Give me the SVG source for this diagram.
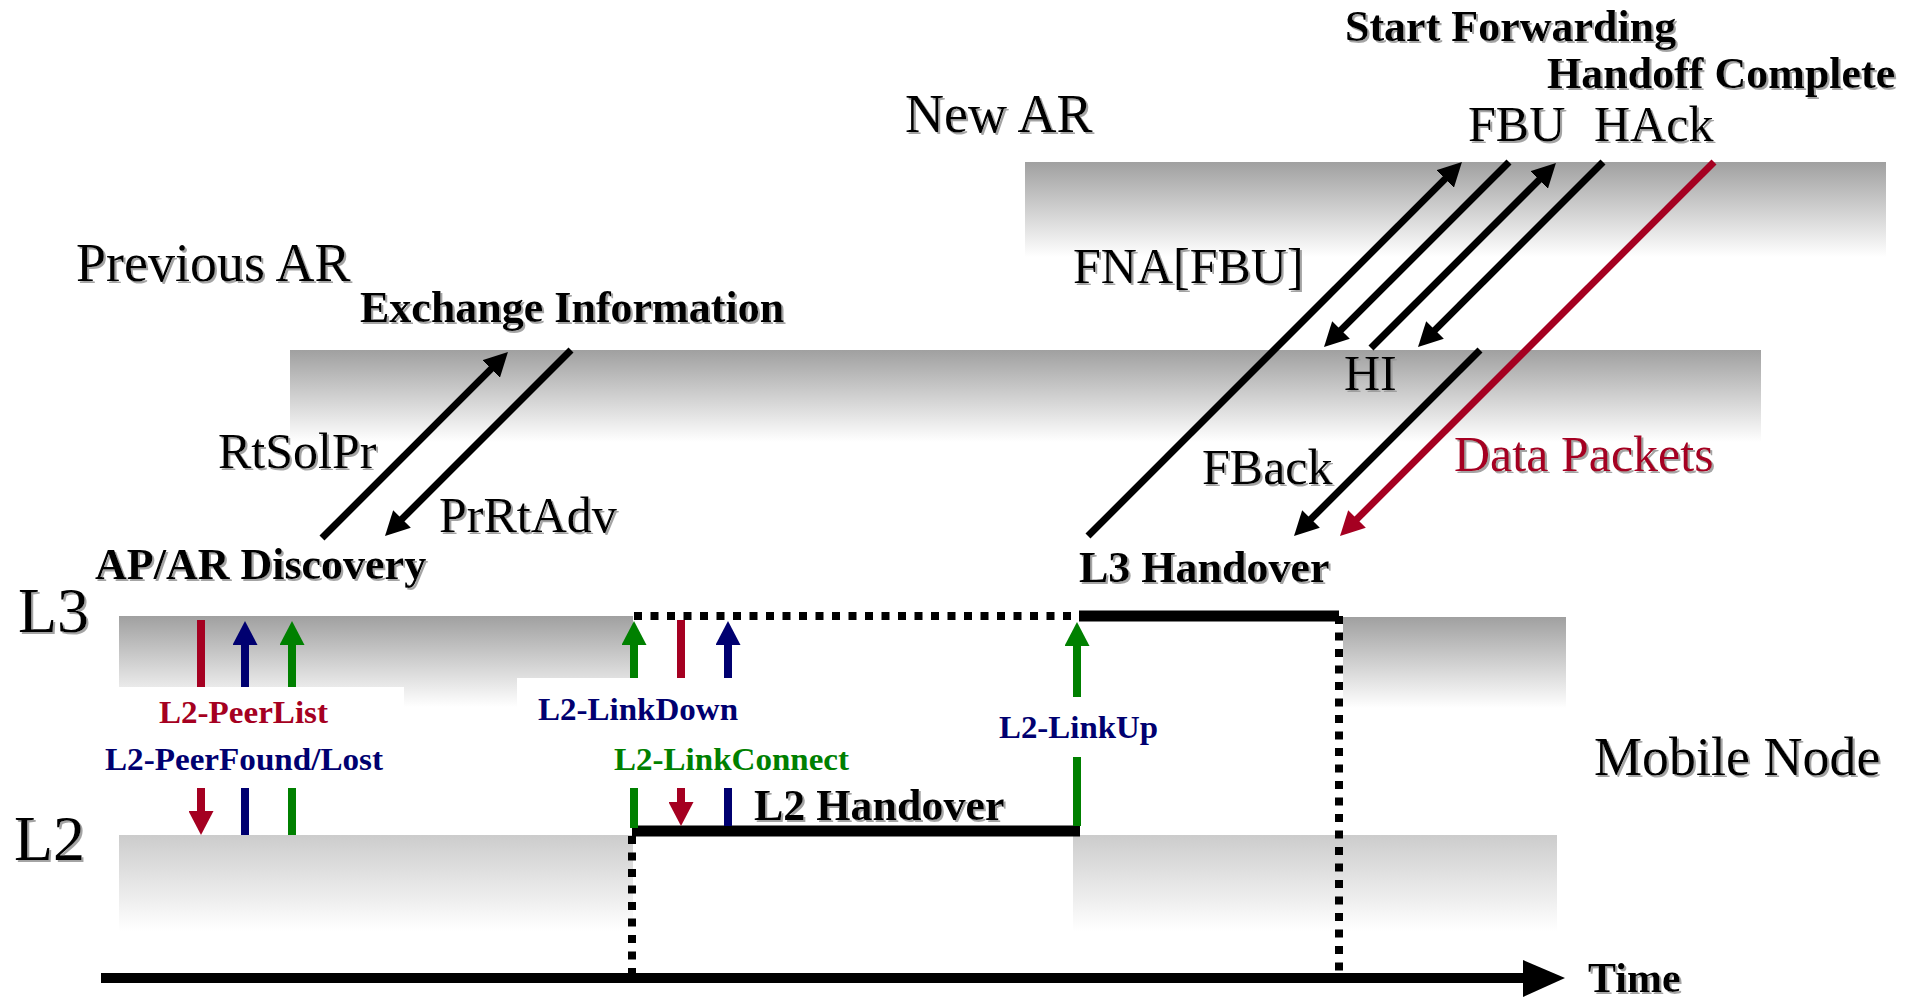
<svg xmlns="http://www.w3.org/2000/svg" width="1918" height="998" viewBox="0 0 1918 998">
  <defs>
    <linearGradient id="bandDark" x1="0" y1="0" x2="0" y2="1">
      <stop offset="0" stop-color="#a0a0a0"/>
      <stop offset="1" stop-color="#ffffff"/>
    </linearGradient>
    <linearGradient id="bandLight" x1="0" y1="0" x2="0" y2="1">
      <stop offset="0" stop-color="#cccccc"/>
      <stop offset="1" stop-color="#ffffff"/>
    </linearGradient>
    <filter id="shadow" x="-5%" y="-20%" width="110%" height="140%">
      <feDropShadow dx="2" dy="2" stdDeviation="0.5" flood-color="#9a9a9a" flood-opacity="0.9"/>
    </filter>
    <marker id="ahBlack" viewBox="0 0 24 25" markerWidth="24" markerHeight="25" refX="14" refY="12.5" orient="auto" markerUnits="userSpaceOnUse">
      <path d="M0,0 L24,12.5 L0,25 Z" fill="#000000"/>
    </marker>
    <marker id="ahRed" viewBox="0 0 24 25" markerWidth="24" markerHeight="25" refX="14" refY="12.5" orient="auto" markerUnits="userSpaceOnUse">
      <path d="M0,0 L24,12.5 L0,25 Z" fill="#a50021"/>
    </marker>
    <marker id="ahNavy" viewBox="0 0 24 25" markerWidth="24" markerHeight="25" refX="14" refY="12.5" orient="auto" markerUnits="userSpaceOnUse">
      <path d="M0,0 L24,12.5 L0,25 Z" fill="#000070"/>
    </marker>
    <marker id="ahGreen" viewBox="0 0 24 25" markerWidth="24" markerHeight="25" refX="14" refY="12.5" orient="auto" markerUnits="userSpaceOnUse">
      <path d="M0,0 L24,12.5 L0,25 Z" fill="#008000"/>
    </marker>
    <style>
      text { font-family: "Liberation Serif", "Times New Roman", serif; }
      .big { font-size: 54px; fill: #000; filter: url(#shadow); }
      .mid { font-size: 50px; fill: #000; filter: url(#shadow); }
      .bold { font-size: 44px; font-weight: bold; fill: #000; filter: url(#shadow); }
      .layer { font-size: 64px; fill: #000; filter: url(#shadow); }
      .lbl { font-size: 31px; font-weight: bold; }
      .red { fill: #a50021; }
      .navy { fill: #000070; }
      .green { fill: #008000; }
      .msg { stroke: #000; stroke-width: 7; fill: none; marker-end: url(#ahBlack); }
      .msgRed { stroke: #a50021; stroke-width: 7; fill: none; marker-end: url(#ahRed); }
      .sigR { stroke: #a50021; stroke-width: 8; }
      .sigN { stroke: #000070; stroke-width: 8; }
      .sigG { stroke: #008000; stroke-width: 8; }
      .dots { stroke: #000; stroke-width: 8; stroke-dasharray: 8 8.5; fill: none; }
      .solid { stroke: #000; stroke-width: 11; fill: none; }
    </style>
  </defs>

  <rect x="0" y="0" width="1918" height="998" fill="#ffffff"/>

  <!-- New access router band -->
  <g id="new-ar">
    <rect x="1025" y="162" width="861" height="95" fill="url(#bandDark)"/>
    <text class="big" x="905" y="132">New AR</text>
  </g>

  <!-- Previous access router band -->
  <g id="previous-ar">
    <rect x="290" y="350" width="1471" height="92" fill="url(#bandDark)"/>
    <text class="big" x="76" y="281">Previous AR</text>
  </g>

  <!-- Mobile node: L3 and L2 layers -->
  <g id="mobile-node-l3">
    <rect x="119" y="616" width="514" height="91" fill="url(#bandDark)"/>
    <rect x="1343" y="617" width="223" height="91" fill="url(#bandDark)"/>
    <rect x="119" y="687" width="285" height="40" fill="#ffffff"/>
    <rect x="517" y="678" width="116" height="40" fill="#ffffff"/>
    <text class="layer" x="18" y="632">L3</text>
  </g>
  <g id="mobile-node-l2">
    <rect x="119" y="835" width="514" height="96" fill="url(#bandLight)"/>
    <rect x="1073" y="835" width="484" height="96" fill="url(#bandLight)"/>
    <text class="layer" x="14" y="860">L2</text>
  </g>
  <g id="mobile-node-label">
    <text class="big" x="1594" y="775">Mobile Node</text>
  </g>

  <!-- Phase labels -->
  <g id="ap-ar-discovery">
    <text class="bold" x="95" y="579">AP/AR Discovery</text>
  </g>
  <g id="exchange-information">
    <text class="bold" x="360" y="322">Exchange Information</text>
  </g>
  <g id="start-forwarding">
    <text class="bold" x="1345" y="41">Start Forwarding</text>
  </g>
  <g id="handoff-complete">
    <text class="bold" x="1547" y="88">Handoff Complete</text>
  </g>
  <g id="l3-handover">
    <text class="bold" x="1079" y="582">L3 Handover</text>
  </g>
  <g id="l2-handover">
    <text class="bold" x="754" y="820">L2 Handover</text>
  </g>

  <!-- Handover intervals -->
  <g id="handover-intervals">
    <line class="dots" x1="634" y1="616" x2="1079" y2="616"/>
    <line class="solid" x1="1079" y1="616" x2="1339" y2="616"/>
    <line class="dots" x1="1339" y1="616" x2="1339" y2="978"/>
    <line class="solid" x1="632" y1="831" x2="1080" y2="831" stroke-width="12"/>
    <line class="dots" x1="632" y1="836" x2="632" y2="978"/>
  </g>

  <!-- Time axis -->
  <g id="time-axis">
    <line x1="101" y1="978" x2="1528" y2="978" stroke="#000" stroke-width="10"/>
    <polygon points="1523,960 1565,978 1523,997" fill="#000"/>
    <text class="bold" x="1588" y="992" style="font-size:42px">Time</text>
  </g>

  <!-- Messages and layer triggers -->
  <g id="connectors">
    <line class="msg" x1="322" y1="538" x2="500.9" y2="359.1"/>
    <line class="msg" x1="571" y1="350" x2="392.1" y2="528.9"/>
    <line class="msg" x1="1088" y1="536" x2="1454.9" y2="169.1"/>
    <line class="msg" x1="1509" y1="162" x2="1331.1" y2="339.9"/>
    <line class="msg" x1="1371" y1="348" x2="1548.9" y2="170.1"/>
    <line class="msg" x1="1603" y1="162" x2="1425.1" y2="339.9"/>
    <line class="msg" x1="1480" y1="350" x2="1301.1" y2="528.9"/>
    <line class="msgRed" x1="1714" y1="162" x2="1347.1" y2="528.9"/>

    <!-- discovery triggers -->
    <line class="sigR" x1="201" y1="620" x2="201" y2="687"/>
    <line class="sigN" x1="245" y1="687" x2="245" y2="631" marker-end="url(#ahNavy)"/>
    <line class="sigG" x1="292" y1="687" x2="292" y2="631" marker-end="url(#ahGreen)"/>
    <line class="sigR" x1="201" y1="788" x2="201" y2="825" marker-end="url(#ahRed)"/>
    <line class="sigN" x1="245" y1="788" x2="245" y2="835"/>
    <line class="sigG" x1="292" y1="788" x2="292" y2="835"/>

    <!-- link down / connect triggers -->
    <line class="sigG" x1="634" y1="678" x2="634" y2="631" marker-end="url(#ahGreen)"/>
    <line class="sigR" x1="681" y1="620" x2="681" y2="678"/>
    <line class="sigN" x1="728" y1="678" x2="728" y2="631" marker-end="url(#ahNavy)"/>
    <line class="sigG" x1="634" y1="788" x2="634" y2="828"/>
    <line class="sigR" x1="681" y1="788" x2="681" y2="816" marker-end="url(#ahRed)"/>
    <line class="sigN" x1="728" y1="788" x2="728" y2="826"/>

    <!-- link up trigger -->
    <line class="sigG" x1="1077" y1="697" x2="1077" y2="632" marker-end="url(#ahGreen)"/>
    <line class="sigG" x1="1077" y1="757" x2="1077" y2="826"/>
  </g>

  <!-- Message labels -->
  <g id="message-labels">
    <text class="mid" x="218" y="468">RtSolPr</text>
    <text class="mid" x="439" y="532">PrRtAdv</text>
    <text class="mid" x="1073" y="283">FNA[FBU]</text>
    <text class="mid" x="1468" y="141">FBU</text>
    <text class="mid" x="1594" y="141">HAck</text>
    <text class="mid" x="1344" y="390">HI</text>
    <text class="mid" x="1202" y="484">FBack</text>
    <text class="mid red" x="1454" y="471">Data Packets</text>
  </g>

  <!-- Trigger labels -->
  <g id="trigger-labels">
    <text class="lbl red" x="159" y="723" textLength="169" lengthAdjust="spacingAndGlyphs">L2-PeerList</text>
    <text class="lbl navy" x="105" y="770" textLength="278" lengthAdjust="spacingAndGlyphs">L2-PeerFound/Lost</text>
    <text class="lbl navy" x="538" y="720" textLength="200" lengthAdjust="spacingAndGlyphs">L2-LinkDown</text>
    <text class="lbl green" x="614" y="770" textLength="235" lengthAdjust="spacingAndGlyphs">L2-LinkConnect</text>
    <text class="lbl navy" x="999" y="738" textLength="159" lengthAdjust="spacingAndGlyphs">L2-LinkUp</text>
  </g>
</svg>
